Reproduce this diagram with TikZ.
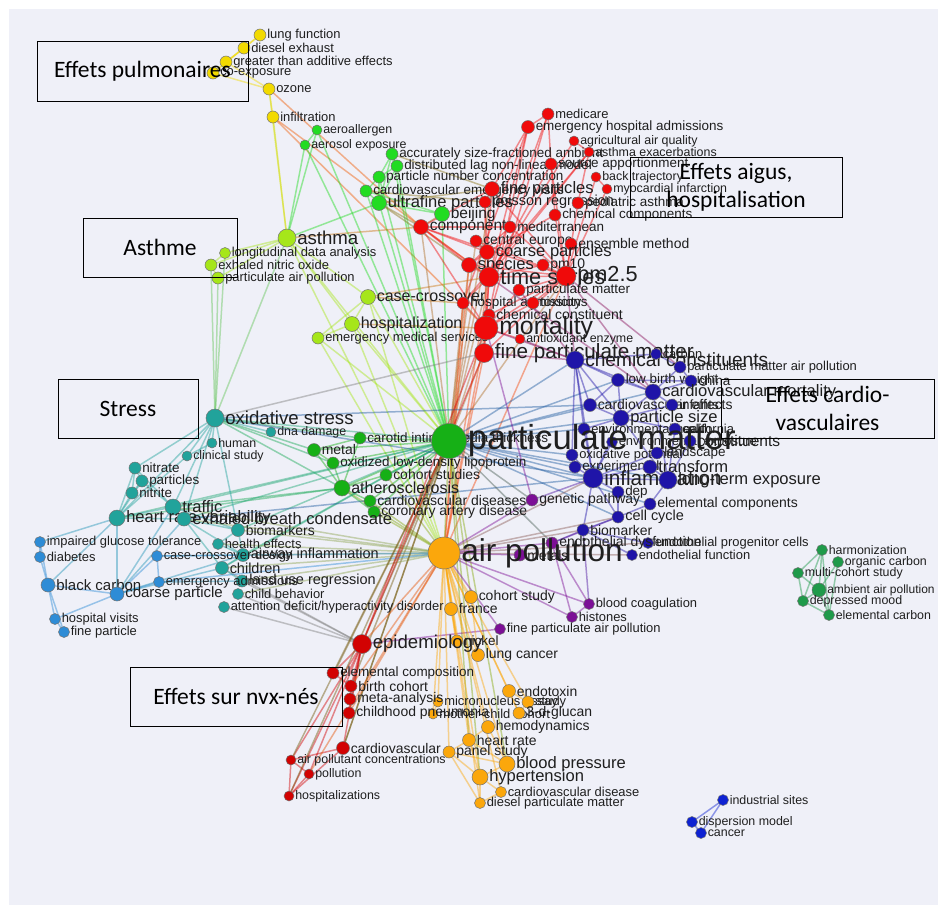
\documentclass[tikz,border=0pt]{standalone}
\usepackage{fontspec}
\setmainfont{Liberation Sans}
\newfontfamily\boxfont{Carlito}
\definecolor{cY}{HTML}{F2DA00}
\definecolor{cG}{HTML}{22DC22}
\definecolor{cL}{HTML}{A6E61A}
\definecolor{cR}{HTML}{F00A0A}
\definecolor{cM}{HTML}{16B016}
\definecolor{cT}{HTML}{21A39B}
\definecolor{cB}{HTML}{2E8CD6}
\definecolor{cN}{HTML}{1F14A8}
\definecolor{cP}{HTML}{7C0F96}
\definecolor{cO}{HTML}{FBA70C}
\definecolor{cD}{HTML}{D20202}
\definecolor{cK}{HTML}{1F9A4A}
\definecolor{cU}{HTML}{0E22D2}
\definecolor{cBr}{HTML}{B0702A}
\definecolor{bgc}{HTML}{EFF0F8}
\pgfdeclarelayer{bgl}
\pgfdeclarelayer{edgel}
\pgfsetlayers{bgl,edgel,main}
% keyword: name, x, y, colour, diameter, font size, text
\newcommand\kw[7]{\node[dot,fill=#4,minimum size=#5pt,
  label={[lab,font=\fontsize{\fpeval{1.035*#6}}{\fpeval{1.035*#6}}\selectfont]right:#7}] (#1) at (#2,#3) {};}
% links of one colour between named keywords
\newcommand\links[2]{\foreach \a/\b in {#2}{\draw[edge,draw=#1] (\a.center) -- (\b.center);}}
\begin{document}
\begin{tikzpicture}[x=1pt,y=-1pt,
  dot/.style={circle,draw=black!55,line width=0.5pt,inner sep=0pt},
  lab/.style={text=black!88,inner sep=0.8pt},
  edge/.style={line width=1.5pt,draw opacity=0.45},
  tag/.style={draw=black,line width=0.9pt,font=\boxfont\fontsize{23.5}{28}\selectfont,align=center,inner sep=0pt}]
\useasboundingbox (0,0) rectangle (943,913);
\begin{pgfonlayer}{bgl}
\fill[white] (0,0) rectangle (943,913);
\fill[bgc] (9,9) rectangle (938,905);
\end{pgfonlayer}

% yellow cluster
\kw{yl1}{260}{35}{cY}{12}{12.5}{lung function}
\kw{yl2}{244}{48}{cY}{12}{12.5}{diesel exhaust}
\kw{yl3}{226}{62}{cY}{12}{12.5}{greater than additive effects}
\kw{yl4}{213}{73}{cY}{12}{12.5}{co-exposure}
\kw{yl5}{269}{89}{cY}{12}{12.5}{ozone}
\kw{yl6}{273}{117}{cY}{12}{12.5}{infiltration}
% bright green cluster
\kw{g1}{317}{130}{cG}{10}{12}{aeroallergen}
\kw{g2}{305}{145}{cG}{10}{12}{aerosol exposure}
\kw{g3}{392}{154}{cG}{12}{13}{accurately size-fractioned ambient}
\kw{g4}{397}{166}{cG}{12}{13}{distributed lag non-linear model}
\kw{g5}{379}{177}{cG}{12}{13}{particle number concentration}
\kw{g6}{366}{191}{cG}{12}{13}{cardiovascular emergency visits}
\kw{g7}{379}{203}{cG}{15}{16}{ultrafine particles}
\kw{g8}{442}{214}{cG}{15}{15}{beijing}
% yellow-green cluster
\kw{l1}{287}{238}{cL}{18}{18}{asthma}
\kw{l2}{225}{253}{cL}{11}{12.5}{longitudinal data analysis}
\kw{l3}{211}{265}{cL}{12}{12.5}{exhaled nitric oxide}
\kw{l4}{218}{278}{cL}{12}{12.5}{particulate air pollution}
\kw{l5}{368}{297}{cL}{15}{15.5}{case-crossover}
\kw{l6}{352}{324}{cL}{15}{15.5}{hospitalization}
\kw{l7}{318}{338}{cL}{12}{12.5}{emergency medical services}
% red cluster
\kw{r1}{548}{114}{cR}{12}{12.5}{medicare}
\kw{r2}{528}{127}{cR}{13}{13}{emergency hospital admissions}
\kw{r3}{574}{141}{cR}{10}{12}{agricultural air quality}
\kw{r4}{589}{152}{cR}{10}{12}{asthma exacerbations}
\kw{r5}{551}{164}{cR}{12}{13}{source apportionment}
\kw{r6}{596}{177}{cR}{10}{12}{back trajectory}
\kw{r7}{607}{189}{cR}{10}{12}{myocardial infarction}
\kw{r8}{492}{189}{cR}{15}{16}{fine particles}
\kw{r9}{485}{202}{cR}{12}{14}{poisson regression}
\kw{r10}{578}{203}{cR}{12}{13}{pediatric asthma}
\kw{r11}{555}{215}{cR}{12}{13}{chemical components}
\kw{r12}{421}{227}{cR}{15}{15}{components}
\kw{r13}{510}{227}{cR}{12}{13}{mediterranean}
\kw{r14}{476}{241}{cR}{12}{13.5}{central europe}
\kw{r15}{571}{244}{cR}{12}{13.5}{ensemble method}
\kw{r16}{487}{252}{cR}{15}{16}{coarse particles}
\kw{r17}{469}{265}{cR}{15}{16}{species}
\kw{r18}{543}{265}{cR}{12}{13.5}{pm10}
\kw{r19}{489}{277}{cR}{20}{21}{time series}
\kw{r20}{566}{276}{cR}{20}{21}{pm2.5}
\kw{r21}{519}{290}{cR}{12}{13}{particulate matter}
\kw{r22}{463}{303}{cR}{12}{13}{hospital admissions}
\kw{r23}{533}{303}{cR}{12}{13}{toxicity}
\kw{r24}{489}{315}{cR}{12}{13.5}{chemical constituent}
\kw{r25}{486}{328}{cR}{24}{24}{mortality}
\kw{r26}{520}{339}{cR}{10}{12}{antioxidant enzyme}
\kw{r27}{484}{353}{cR}{19}{20}{fine particulate matter}
% green cluster around particulate matter
\kw{m1}{360}{438}{cM}{12}{13}{carotid intima-media thickness}
\kw{m2}{314}{450}{cM}{13}{13.5}{metal}
\kw{m3}{333}{463}{cM}{12}{13}{oxidized low-density lipoprotein}
\kw{m4}{386}{475}{cM}{12}{13.5}{cohort studies}
\kw{m5}{342}{488}{cM}{16}{15.5}{atherosclerosis}
\kw{m6}{370}{501}{cM}{12}{13.5}{cardiovascular diseases}
\kw{m7}{374}{512}{cM}{12}{13.5}{coronary artery disease}
% teal cluster
\kw{t1}{215}{418}{cT}{18}{18}{oxidative stress}
\kw{t2}{271}{432}{cT}{10}{12}{dna damage}
\kw{t3}{212}{443}{cT}{10}{12}{human}
\kw{t4}{187}{456}{cT}{10}{12}{clinical study}
\kw{t5}{135}{468}{cT}{12}{13}{nitrate}
\kw{t6}{142}{481}{cT}{12}{13}{particles}
\kw{t7}{132}{493}{cT}{12}{13}{nitrite}
\kw{t8}{173}{507}{cT}{16}{16}{traffic}
\kw{t9}{117}{518}{cT}{16}{16}{heart rate variability}
\kw{t10}{184}{519}{cT}{14}{16}{exhaled breath condensate}
\kw{t11}{238}{530}{cT}{13}{13.5}{biomarkers}
\kw{t12}{218}{544}{cT}{11}{12.5}{health effects}
\kw{t13}{243}{555}{cT}{13}{14}{airway inflammation}
\kw{t14}{222}{568}{cT}{13}{14}{children}
\kw{t15}{242}{581}{cT}{12}{14}{land use regression}
\kw{t16}{238}{594}{cT}{11}{12.5}{child behavior}
\kw{t17}{224}{607}{cT}{11}{12.5}{attention deficit/hyperactivity disorder}
% light blue cluster
\kw{b1}{40}{542}{cB}{11}{12.5}{impaired glucose tolerance}
\kw{b2}{40}{557}{cB}{11}{12.5}{diabetes}
\kw{b3}{157}{556}{cB}{11}{12.5}{case-crossover design}
\kw{b4}{48}{585}{cB}{14}{14.5}{black carbon}
\kw{b5}{159}{582}{cB}{11}{12.5}{emergency admissions}
\kw{b6}{117}{594}{cB}{14}{14.5}{coarse particle}
\kw{b7}{55}{619}{cB}{11}{12.5}{hospital visits}
\kw{b8}{64}{632}{cB}{11}{12.5}{fine particle}
% navy cluster
\kw{n1}{575}{360}{cN}{18}{18.5}{chemical constituents}
\kw{n2}{656}{354}{cN}{11}{12.5}{carbon}
\kw{n3}{680}{367}{cN}{12}{12.5}{particulate matter air pollution}
\kw{n4}{618}{380}{cN}{13}{13}{low birth weight}
\kw{n5}{691}{381}{cN}{12}{13}{china}
\kw{n6}{653}{392}{cN}{16}{16}{cardiovascular mortality}
\kw{n7}{590}{405}{cN}{13}{13.5}{cardiovascular effects}
\kw{n8}{672}{405}{cN}{12}{13}{infants}
\kw{n9}{621}{418}{cN}{16}{16}{particle size}
\kw{n10}{584}{429}{cN}{12}{12.5}{environmental health}
\kw{n11}{675}{429}{cN}{12}{12.5}{california}
\kw{n12}{612}{442}{cN}{11}{12.5}{environmental exposure}
\kw{n13}{690}{441}{cN}{12}{15}{constituents}
\kw{n14}{572}{455}{cN}{12}{12.5}{oxidative potential}
\kw{n15}{657}{453}{cN}{12}{13}{landscape}
\kw{n16}{575}{467}{cN}{12}{13}{experimental}
\kw{n17}{650}{467}{cN}{14}{16}{transform}
\kw{n18}{593}{478}{cN}{20}{20}{inflammation}
\kw{n19}{668}{480}{cN}{18}{16}{long-term exposure}
\kw{n20}{618}{492}{cN}{12}{13}{dep}
\kw{n21}{650}{504}{cN}{12}{13.5}{elemental components}
\kw{n22}{618}{517}{cN}{12}{14}{cell cycle}
\kw{n23}{583}{530}{cN}{12}{13.5}{biomarker}
\kw{n24}{648}{543}{cN}{11}{12.5}{endothelial progenitor cells}
\kw{n25}{632}{555}{cN}{11}{12.5}{endothelial function}
% purple cluster
\kw{p1}{532}{500}{cP}{12}{13.5}{genetic pathway}
\kw{p2}{552}{543}{cP}{12}{13.5}{endothelial dysfunction}
\kw{p3}{520}{555}{cP}{12}{13.5}{metals}
\kw{p4}{589}{604}{cP}{11}{12.5}{blood coagulation}
\kw{p5}{572}{617}{cP}{11}{12.5}{histones}
\kw{p6}{500}{629}{cP}{11}{12.5}{fine particulate air pollution}
% orange cluster
\kw{o1}{471}{597}{cO}{13}{13.5}{cohort study}
\kw{o2}{451}{609}{cO}{13}{13.5}{france}
\kw{o3}{457}{641}{cO}{12}{13}{nickel}
\kw{o4}{478}{655}{cO}{13}{13.5}{lung cancer}
\kw{o5}{509}{691}{cO}{13}{13.5}{endotoxin}
\kw{o6}{438}{702}{cO}{10}{12.5}{micronucleus assay}
\kw{o7}{528}{702}{cO}{12}{12.5}{study}
\kw{o8}{433}{714}{cO}{10}{12.5}{mother-child cohort}
\kw{o9}{519}{713}{cO}{12}{13.5}{3-d-glucan}
\kw{o10}{488}{727}{cO}{13}{13.5}{hemodynamics}
\kw{o11}{469}{740}{cO}{13}{13.5}{heart rate}
\kw{o12}{449}{752}{cO}{12}{13.5}{panel study}
\kw{o13}{507}{764}{cO}{16}{16}{blood pressure}
\kw{o14}{480}{777}{cO}{16}{16}{hypertension}
\kw{o15}{501}{792}{cO}{11}{12.5}{cardiovascular disease}
\kw{o16}{480}{803}{cO}{11}{12.5}{diesel particulate matter}
% dark red cluster
\kw{d0}{362}{644}{cD}{19}{18}{epidemiology}
\kw{d1}{333}{673}{cD}{12}{13}{elemental composition}
\kw{d2}{351}{686}{cD}{12}{13.5}{birth cohort}
\kw{d3}{350}{699}{cD}{12}{13.5}{meta-analysis}
\kw{d4}{349}{713}{cD}{12}{13.5}{childhood pneumonia}
\kw{d5}{343}{748}{cD}{13}{13.5}{cardiovascular}
\kw{d6}{291}{760}{cD}{10}{12}{air pollutant concentrations}
\kw{d7}{309}{774}{cD}{10}{12}{pollution}
\kw{d8}{289}{796}{cD}{10}{12}{hospitalizations}
% dark green cluster
\kw{k1}{822}{550}{cK}{11}{12}{harmonization}
\kw{k2}{838}{562}{cK}{11}{12}{organic carbon}
\kw{k3}{798}{573}{cK}{11}{12}{multi-cohort study}
\kw{k4}{819}{590}{cK}{14}{11.6}{ambient air pollution}
\kw{k5}{803}{601}{cK}{11}{12}{depressed mood}
\kw{k6}{829}{615}{cK}{11}{12}{elemental carbon}
% blue cluster
\kw{u1}{723}{800}{cU}{11}{12}{industrial sites}
\kw{u2}{692}{822}{cU}{11}{12}{dispersion model}
\kw{u3}{701}{833}{cU}{11}{12}{cancer}
% the two hubs
\kw{m0}{449}{441}{cM}{35}{33.5}{particulate matter}
\kw{o0}{444}{553}{cO}{32}{30.5}{air pollution}

\begin{pgfonlayer}{edgel}
\links{cY}{yl1/yl2,yl1/yl3,yl2/yl3,yl2/yl4,yl3/yl4,yl4/yl5,yl3/yl5,yl5/yl6}
\links{cY!60!cL}{yl6/l1,yl5/l1}
\links{cY!40!cR}{yl5/r12,yl6/r19,yl6/r25}
\links{cG}{g1/g2,g1/l1,g2/l1,g1/m0,g2/m0,g3/g4,g3/g5,g4/g5,g4/g7,g5/g7,g6/g7,g5/g6,g3/g7,g7/g8,g6/g8,g7/m0,g5/m0,g6/m0,g8/m0,g3/m0,g7/l1,g4/m0}
\links{cG!50!cR}{g8/r12,g7/r8,g6/r9,g7/r17,g3/r8,g7/r12}
\links{cL}{l1/l2,l1/l3,l1/l4,l2/l3,l3/l4,l1/l5,l1/l6,l5/l6,l6/l7,l5/l7,l1/m0,l5/m0,l6/m0,l7/m0,l7/o0,l6/o0,l1/o0,l5/o0}
\links{cL!50!cT}{l1/t1,l3/t1,l4/t1,l2/t1}
\links{cL!50!cR}{l1/r12,l5/r19,l6/r25,l5/r22}
\links{cR}{r1/r2,r1/r25,r1/r19,r2/r19,r2/r25,r2/r22,r3/r4,r3/r19,r4/r19,r4/r22,r5/r11,r5/r20,r6/r20,r7/r20,r6/r7,r8/r9,r8/r12,r8/r16,r8/r20,r9/r19,r9/r25,r10/r20,r10/r4,r11/r20,r12/r13,r12/r16,r12/r17,r12/r20,r13/r17,r14/r16,r14/r20,r15/r20,r16/r17,r16/r19,r17/r19,r17/r20,r18/r20,r18/r19,r19/r20,r19/r25,r19/r22,r20/r25,r21/r20,r21/r25,r22/r25,r23/r25,r23/r20,r24/r25,r24/r20,r26/r25,r27/r25,r27/r19,r27/r20,r5/r19,r13/r20,r11/r16,r1/r5,r2/r8,r12/r25,r12/r19}
\links{cBr}{r25/m0,r27/m0,r19/m0,r20/m0,r16/m0,r17/m0,r12/m0,r8/m0,r22/m0,r14/m0}
\links{cR!60!cO}{r25/o0,r19/o0,r27/o0,r20/o0,r22/o0,r17/o0}
\links{cR!50!cN}{r20/n1,r25/n1,r19/n6,r27/n1,r26/n1,r20/n6,r20/n3,r21/n1}
\links{gray}{r27/t1,t16/d0,t17/d0,t14/d0,t15/d0}
\links{cM}{m0/m1,m0/m2,m0/m3,m0/m4,m0/m5,m0/m6,m0/m7,m2/m5,m3/m5,m5/m6,m5/m7,m6/m7,m1/m5,m4/m5,m2/m3,m1/m2}
\links{cM!50!cT}{m2/t1,m1/t1,m5/t1,m3/t1,m5/t9,m5/t8}
\links{cM!50!cO}{m6/o0,m7/o0,m5/o0,m4/o0,m0/o0,m0/o14,m0/o13,m0/o1,m0/o11}
\links{cT!70!cM}{m0/t1,m0/t9,m0/t8,m0/t10,m0/t11,m0/t13,m0/t14}
\links{cT!50!cN}{m0/n1,m0/n9,m0/n18,m0/n19,m0/n6,m0/n4,m0/n7,m0/n10,m0/n14,m0/n16,m0/n22,m0/n21,t1/n18,t1/n7,t10/n18}
\links{cM!50!cP}{m0/p1,m0/p2}
\links{cM!50!cD}{m0/d0,m0/d2,m0/d5}
\links{cT}{t1/t2,t1/t3,t1/t4,t1/t5,t1/t8,t1/t9,t1/t10,t1/t11,t5/t6,t6/t7,t5/t7,t5/t8,t6/t8,t7/t9,t5/t9,t6/t9,t8/t9,t8/t10,t9/t10,t8/t11,t10/t11,t11/t12,t11/t13,t13/t14,t14/t15,t12/t13,t4/t9,t3/t4,t10/t13,t10/t14}
\links{cT!50!cO}{t11/o0,t13/o0,t14/o0,t15/o0,t16/o0,t12/o0,t10/o0,t8/o0}
\links{cT!50!cB}{t9/b1,t9/b4,t9/b6,t8/b6,b6/t13,b6/t14,b3/t13,b5/t15,b6/t10}
\links{cB}{b1/b2,b1/b4,b2/b4,b4/b6,b4/b7,b4/b8,b7/b8,b6/b7,b6/b3,b6/b5,b3/b5,b3/o0,b5/o0}
\links{cN}{n1/n4,n1/n6,n1/n7,n1/n9,n1/n10,n1/n14,n1/n18,n2/n3,n3/n6,n4/n6,n4/n5,n4/n7,n4/n9,n5/n6,n6/n9,n6/n8,n7/n9,n8/n9,n9/n10,n9/n11,n9/n18,n10/n18,n11/n19,n14/n18,n15/n18,n16/n18,n17/n18,n17/n19,n18/n19,n18/n20,n18/n22,n18/n23,n19/n21,n20/n22,n21/n22,n22/n23,n23/n24,n23/n25,n18/n12,n19/n13,n2/n1,n5/n3,n6/n19,n9/n19}
\links{cN!50!cO}{n18/o0,n23/o0,n25/o0,n24/o0,n22/o0}
\links{cN!50!cP}{n18/p1,n23/p2,p2/n22,p4/n23}
\links{cP}{p1/o0,p2/o0,p3/o0,p4/o0,p5/o0,p6/o0,p4/p5,p5/p2,p4/p2,p6/d0,p1/r25}
\links{cO}{o0/o1,o0/o2,o0/o3,o0/o4,o0/o5,o0/o6,o0/o7,o0/o8,o0/o9,o0/o10,o0/o11,o0/o12,o0/o13,o0/o14,o0/o15,o0/o16,o5/o9,o5/o7,o7/o9,o10/o13,o11/o12,o11/o13,o12/o13,o12/o14,o13/o14,o14/o15,o14/o16,o15/o16,o11/o14,o6/o8,o2/o3,o1/o4,o10/o11,o12/o16}
\links{cD}{d0/d1,d0/d2,d0/d3,d0/d4,d0/d5,d0/d6,d0/d7,d0/d8,d6/d7,d7/d8,d6/d8,d5/d8,d5/d6,d1/d2,d2/d3,d3/d4}
\links{cD!50!cM}{d1/m0,d5/m0,d8/m0,d6/m0}
\links{cD!50!cO}{o0/d0,d2/o0,d4/o0,d7/o0}
\links{cD!70!cR}{d0/r27,d0/r25}
\links{cK}{k1/k3,k1/k4,k1/k5,k1/k6,k3/k4,k3/k5,k4/k5,k4/k6,k2/k6,k2/k4,k5/k6}
\links{cU}{u1/u2,u1/u3,u2/u3}
\end{pgfonlayer}

% cluster captions
\node[tag,minimum width=211pt,minimum height=60pt] (bx1) at (142.5,71) {Effets pulmonaires};
\node[tag,minimum width=212pt,minimum height=60pt] (bx2) at (736,187) {Effets aigus,\\hospitalisation};
\node[tag,minimum width=154pt,minimum height=59pt] (bx3) at (160,247.5) {Asthme};
\node[tag,minimum width=140pt,minimum height=59pt] (bx4) at (128,408.5) {Stress};
\node[tag,minimum width=213pt,minimum height=59pt] (bx5) at (827.5,408.5) {Effets cardio-\\vasculaires};
\node[tag,minimum width=212pt,minimum height=59pt] (bx6) at (236,696.5) {Effets sur nvx-nés};
\end{tikzpicture}
\end{document}
